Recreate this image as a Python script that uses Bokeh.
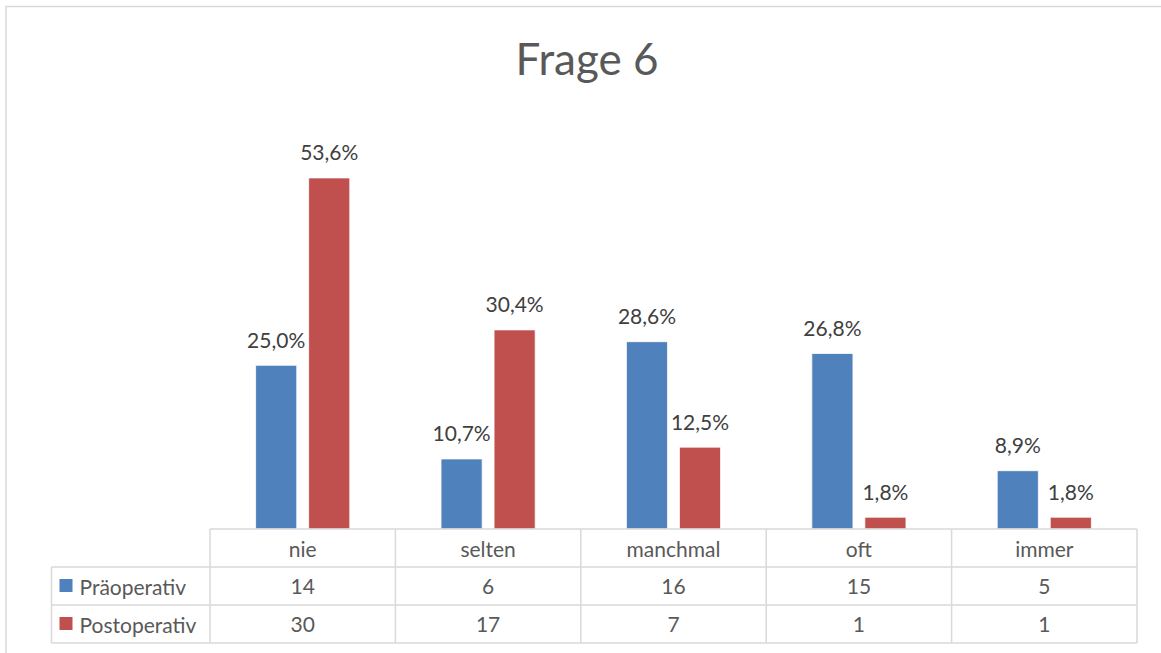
from bokeh.plotting import figure
from bokeh.models import Range1d, ColumnDataSource
from bokeh.core.properties import value
from bokeh.embed import file_html
from bokeh.resources import INLINE

# ---- data ----
categories = ["nie", "selten", "manchmal", "oft", "immer"]
series = ["Präoperativ", "Postoperativ"]
pre_pct = [25.0, 10.7, 28.6, 26.8, 8.9]
post_pct = [53.6, 30.4, 12.5, 1.8, 1.8]
pre_count = [14, 6, 16, 15, 5]
post_count = [30, 17, 7, 1, 1]
title_text = "Frage 6"

# ---- layout (pixels) ----
W, H = 1161, 653
CAT_PX = 185.4
X0_PX = 209.5
Y0_PX = 528.5
PCT_PX = 6.55

xs = -X0_PX / CAT_PX
xe = xs + W / CAT_PX
ys = -(H - Y0_PX) / PCT_PX
ye = ys + H / PCT_PX


def X(px):
    return xs + px / CAT_PX


def Y(py):
    return ye - py / PCT_PX


FONT = value("Lato")
BLUE = "#4F81BD"
RED = "#C0504D"
GRID = "#d9d9d9"
TXT = "#595959"
LBL = "#404040"
TFS = "21px"

p = figure(width=W, height=H, x_range=Range1d(xs, xe), y_range=Range1d(ys, ye),
           output_backend="svg", toolbar_location=None, min_border=0,
           x_axis_location=None, y_axis_location=None)
p.outline_line_color = None
p.xgrid.visible = False
p.ygrid.visible = False
p.background_fill_color = "white"
p.border_fill_color = "white"

n = len(categories)
centers = [i + 0.5 for i in range(n)]
off = 0.143
bw = 0.222

src = ColumnDataSource(dict(
    xb=[c - off for c in centers], xr=[c + off for c in centers],
    pre=pre_pct, post=post_pct,
    pre_lbl=[f"{v:.1f}%".replace(".", ",") for v in pre_pct],
    post_lbl=[f"{v:.1f}%".replace(".", ",") for v in post_pct],
    xc=centers, cats=categories,
    pre_c=[str(v) for v in pre_count], post_c=[str(v) for v in post_count],
))

p.vbar(x="xb", top="pre", bottom=0, width=bw, source=src, fill_color=BLUE,
       line_color="white", line_width=0.8)
p.vbar(x="xr", top="post", bottom=0, width=bw, source=src, fill_color=RED,
       line_color="white", line_width=0.8)

p.text(x="xb", y="pre", text="pre_lbl", source=src, text_align="center",
       text_baseline="middle", y_offset=-26, text_font=FONT,
       text_font_size="21px", text_color=LBL)
p.text(x="xr", y="post", text="post_lbl", source=src, text_align="center",
       text_baseline="middle", y_offset=-26, text_font=FONT,
       text_font_size="21px", text_color=LBL)

# ---- chart border ----
p.segment(x0=[X(5.5), X(5)], y0=[Y(6), Y(6)], x1=[X(5.5), X(W)], y1=[Y(H), Y(6)],
          line_color=GRID, line_width=1.5)

# ---- data table ----
rows_px = [528.5, 566.5, 604.5, 642.5]
leg_left = X(51)
hx0 = [0, leg_left, leg_left, leg_left]
hx1 = [n, n, n, n]
hy = [Y(r) for r in rows_px]
p.segment(x0=hx0, y0=hy, x1=hx1, y1=hy, line_color=GRID, line_width=1.5)
vx = list(range(n + 1)) + [leg_left]
vy0 = [Y(rows_px[0])] * (n + 1) + [Y(rows_px[1])]
vy1 = [Y(rows_px[3])] * (n + 2)
p.segment(x0=vx, y0=vy0, x1=vx, y1=vy1, line_color=GRID, line_width=1.5)

p.text(x="xc", y=Y(548), text="cats", source=src, text_align="center",
       text_baseline="middle", text_font=FONT, text_font_size=TFS, text_color=TXT)
p.text(x="xc", y=Y(585.5), text="pre_c", source=src, text_align="center",
       text_baseline="middle", text_font=FONT, text_font_size=TFS, text_color=TXT)
p.text(x="xc", y=Y(623.5), text="post_c", source=src, text_align="center",
       text_baseline="middle", text_font=FONT, text_font_size=TFS, text_color=TXT)

# legend keys in table
p.scatter(x=[X(65.5), X(65.5)], y=[Y(585), Y(623)], marker="square", size=13,
          fill_color=[BLUE, RED], line_color=None)
p.text(x=[X(79), X(79)], y=[Y(585.5), Y(623.5)], text=series, text_align="left",
       text_baseline="middle", text_font=FONT, text_font_size=TFS, text_color=TXT)

# ---- title ----
p.text(x=[X(586.5)], y=[Y(57)], text=[title_text], text_align="center",
       text_baseline="middle", text_font=FONT, text_font_size="44px", text_color=TXT)

open("out.html", "w").write(file_html(p, INLINE))
